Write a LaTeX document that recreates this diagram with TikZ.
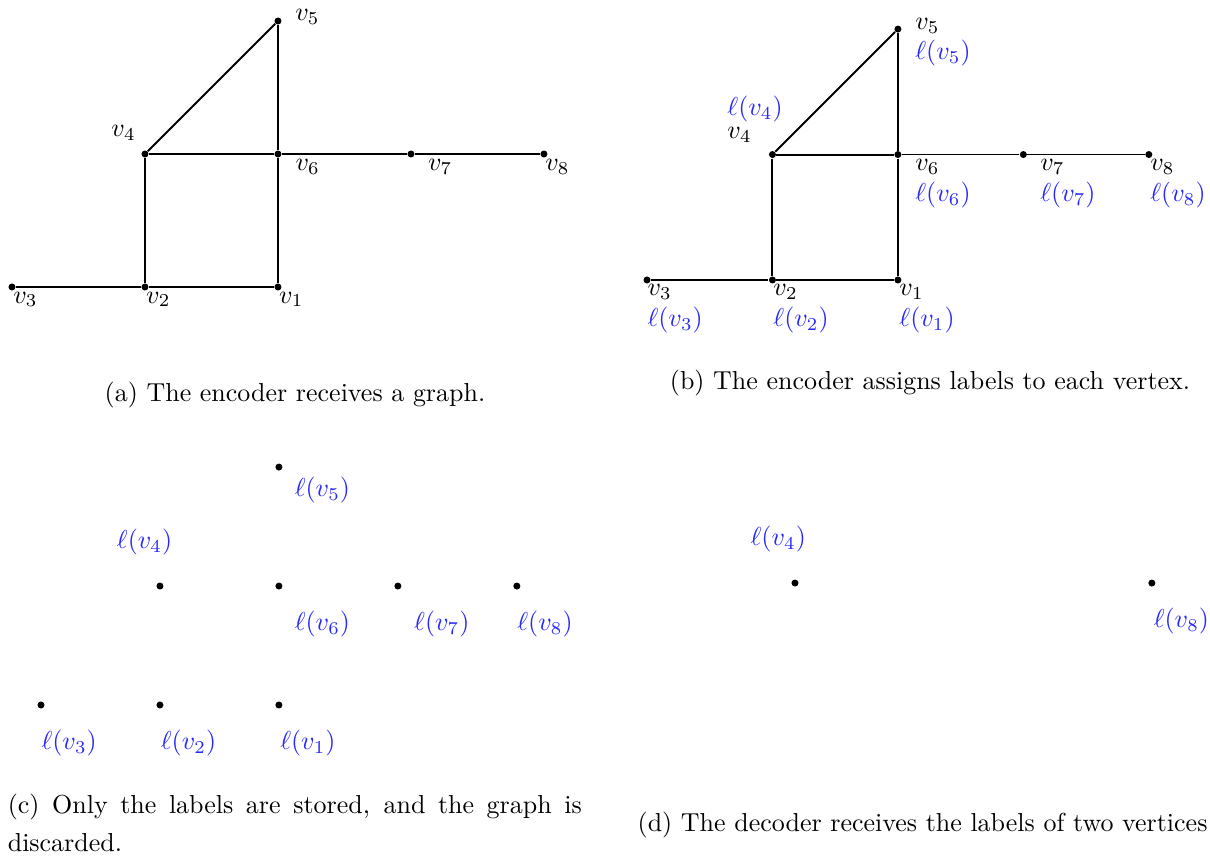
\documentclass[tikz,border=0pt]{standalone}
\usepackage{amsmath, amssymb}
\usepackage{tikz}
\usepackage{xcolor}
\definecolor{lblue}{RGB}{40,40,255}
\hyphenpenalty=10000

\begin{document}
\begin{tikzpicture}[
  vx/.style={circle, fill, inner sep=0pt, minimum size=2.7pt},
  nm/.style={anchor=west, inner sep=0pt},
  lb/.style={anchor=west, inner sep=0pt, text=lblue},
  ed/.style={line width=0.75pt},
  edthin/.style={line width=0.4pt},
  x=38.5pt, y=38.5pt
]
  \useasboundingbox (0,0) rectangle (12.10,8.56);

  %--- (a) the graph ---
  \begin{scope}[shift={(0.12,5.69)}, x=51.2pt, y=51.2pt]
    \node[vx] (a1) at (2,0) {};
    \node[vx] (a2) at (1,0) {};
    \node[vx] (a3) at (0,0) {};
    \node[vx] (a4) at (1,1) {};
    \node[vx] (a5) at (2,2) {};
    \node[vx] (a6) at (2,1) {};
    \node[vx] (a7) at (3,1) {};
    \node[vx] (a8) at (4,1) {};
    \node[nm] (an1) at (2.005,-0.093) {$v_1$};
    \node[nm] (an2) at (1.005,-0.093) {$v_2$};
    \node[nm] (an3) at (0.006,-0.093) {$v_3$};
    \node[nm] (an4) at (0.744, 1.158) {$v_4$};
    \node[nm] (an5) at (2.126, 2.032) {$v_5$};
    \node[nm] (an6) at (2.128, 0.905) {$v_6$};
    \node[nm] (an7) at (3.125, 0.905) {$v_7$};
    \node[nm] (an8) at (4.007, 0.905) {$v_8$};
    % Edges
    \draw[ed] (a4)--(a5);  \draw[ed] (a5)--(a6);
    \draw[ed] (a4)--(a6);  \draw[ed] (a4)--(a2);
    \draw[ed] (a6)--(a1);  \draw[ed] (a3)--(a2);
    \draw[ed] (a2)--(a1);
    \draw[edthin] (a6)--(a7); \draw[edthin] (a7)--(a8);
  \end{scope}
  \node (capa) at (2.95,4.61) {(a) The encoder receives a graph.};

  %--- (b) the graph with labels ---
  \begin{scope}[shift={(6.47,5.76)}, x=48.3pt, y=48.3pt]
    \node[vx] (b1) at (2,0) {};
    \node[vx] (b2) at (1,0) {};
    \node[vx] (b3) at (0,0) {};
    \node[vx] (b4) at (1,1) {};
    \node[vx] (b5) at (2,2) {};
    \node[vx] (b6) at (2,1) {};
    \node[vx] (b7) at (3,1) {};
    \node[vx] (b8) at (4,1) {};
    \node[nm] (bn1) at (2.008,-0.096) {$v_1$};
    \node[nm] (bn2) at (1.004,-0.096) {$v_2$};
    \node[nm] (bn3) at (0.000,-0.096) {$v_3$};
    \node[nm] (bn4) at (0.637, 1.155) {$v_4$};
    \node[nm] (bn5) at (2.135, 2.024) {$v_5$};
    \node[nm] (bn6) at (2.135, 0.900) {$v_6$};
    \node[nm] (bn7) at (3.131, 0.900) {$v_7$};
    \node[nm] (bn8) at (4.008, 0.900) {$v_8$};
    \node[lb] (bl1) at (2.008,-0.319) {$\ell(v_1)$};
    \node[lb] (bl2) at (1.004,-0.319) {$\ell(v_2)$};
    \node[lb] (bl3) at (0.000,-0.319) {$\ell(v_3)$};
    \node[lb] (bl4) at (0.637, 1.363) {$\ell(v_4)$};
    \node[lb] (bl5) at (2.135, 1.809) {$\ell(v_5)$};
    \node[lb] (bl6) at (2.135, 0.677) {$\ell(v_6)$};
    \node[lb] (bl7) at (3.131, 0.677) {$\ell(v_7)$};
    \node[lb] (bl8) at (4.008, 0.677) {$\ell(v_8)$};
    % Edges
    \draw[ed] (b4)--(b5);  \draw[ed] (b5)--(b6);
    \draw[ed] (b4)--(b6);  \draw[ed] (b4)--(b2);
    \draw[ed] (b6)--(b1);  \draw[ed] (b3)--(b2);
    \draw[ed] (b2)--(b1);
    \draw[edthin] (b6)--(b7); \draw[edthin] (b7)--(b8);
  \end{scope}
  \node (capb) at (9.30,4.73) {(b) The encoder assigns labels to each vertex.};

  %--- (c) only the labels ---
  \begin{scope}[shift={(0.41,1.51)}, x=45.8pt, y=45.8pt]
    \node[vx] (c1) at (2,0) {};
    \node[vx] (c2) at (1,0) {};
    \node[vx] (c3) at (0,0) {};
    \node[vx] (c4) at (1,1) {};
    \node[vx] (c5) at (2,2) {};
    \node[vx] (c6) at (2,1) {};
    \node[vx] (c7) at (3,1) {};
    \node[vx] (c8) at (4,1) {};
    \node[lb] (cl1) at (2.007,-0.317) {$\ell(v_1)$};
    \node[lb] (cl2) at (1.003,-0.317) {$\ell(v_2)$};
    \node[lb] (cl3) at (0.000,-0.317) {$\ell(v_3)$};
    \node[lb] (cl4) at (0.634, 1.372) {$\ell(v_4)$};
    \node[lb] (cl5) at (2.129, 1.807) {$\ell(v_5)$};
    \node[lb] (cl6) at (2.129, 0.678) {$\ell(v_6)$};
    \node[lb] (cl7) at (3.133, 0.678) {$\ell(v_7)$};
    \node[lb] (cl8) at (4.000, 0.678) {$\ell(v_8)$};
  \end{scope}
  \node[anchor=north west, inner sep=0pt, text width=221pt, align=justify,
        font=\linespread{1.2}\selectfont] (capc) at (0.073,0.623)
    {(c) Only the labels are stored, and the graph is discarded.};

  %--- (d) two vertices ---
  \begin{scope}[shift={(6.76,1.54)}, x=45.8pt, y=45.8pt]
    \node[vx] (d4) at (1,1) {};
    \node[vx] (d8) at (4,1) {};
    \node[lb] (dl4) at (0.623, 1.370) {$\ell(v_4)$};
    \node[lb] (dl8) at (4.012, 0.683) {$\ell(v_8)$};
  \end{scope}
  \node[anchor=east, inner sep=0pt] (capd) at (12.08,0.31)
    {(d) The decoder receives the labels of two vertices};
\end{tikzpicture}
\end{document}
